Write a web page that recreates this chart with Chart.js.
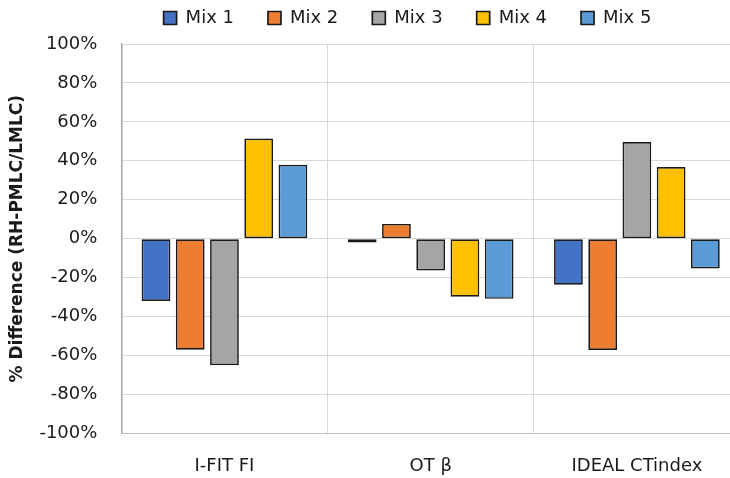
<!DOCTYPE html>
<html>
<head>
<meta charset="utf-8">
<script src="https://cdn.jsdelivr.net/npm/chart.js@4"></script>
<style>
html,body{margin:0;padding:0;background:#fff;overflow:hidden;}
#wrap{width:730px;height:478px;overflow:hidden;position:relative;}
canvas{display:block;}
</style>
</head>
<body>
<div id="wrap"><canvas id="c" width="740" height="478"></canvas></div>
<script>
const categories = ["I-FIT FI", "OT \u03B2", "IDEAL CTindex"];
const seriesNames = ["Mix 1", "Mix 2", "Mix 3", "Mix 4", "Mix 5"];
const mix1 = [-32, -2, -23.6];
const mix2 = [-57, 7.6, -57.2];
const mix3 = [-65, -16.3, 49.7];
const mix4 = [51.4, -29.8, 36.8];
const mix5 = [38, -30.9, -15.3];
const seriesColors = ["#4472C4", "#ED7D31", "#A5A5A5", "#FFC000", "#5B9BD5"];
const yTicks = [-100, -80, -60, -40, -20, 0, 20, 40, 60, 80, 100];

const seriesValues = [mix1, mix2, mix3, mix4, mix5];
const FONT = "'DejaVu Sans', sans-serif";

const legendShift = {
  id: 'legendShift',
  afterLayout(chart) {
    const lg = chart.legend;
    if (lg) { lg.left += 34; lg.right += 34; lg.top -= 7; lg.bottom -= 7; }
  }
};

new Chart(document.getElementById('c'), {
  type: 'bar',
  data: {
    labels: categories,
    datasets: seriesNames.map((n, i) => ({
      label: n,
      data: seriesValues[i],
      backgroundColor: seriesColors[i],
      borderColor: '#1a1a1a',
      borderWidth: 1.7,
      borderSkipped: false,
      categoryPercentage: 0.83,
      barPercentage: 0.84
    }))
  },
  options: {
    responsive: false,
    animation: false,
    devicePixelRatio: 1,
    layout: { padding: { top: -18, left: 7, right: 0, bottom: -21 } },
    plugins: {
      legend: {
        position: 'top',
        labels: {
          font: { family: FONT, size: 18 },
          color: '#1a1a1a',
          boxWidth: 13,
          boxHeight: 13,
          padding: 34
        }
      },
      tooltip: { enabled: false }
    },
    scales: {
      x: {
        grid: { color: '#d9d9d9', lineWidth: 1, offset: true, drawTicks: false },
        border: { color: '#bfbfbf' },
        ticks: { font: { family: FONT, size: 18 }, color: '#1a1a1a', padding: 22 }
      },
      y: {
        min: -100, max: 100,
        afterBuildTicks(axis) { axis.ticks = yTicks.map(v => ({ value: v })); },
        grid: { color: '#d9d9d9', lineWidth: 1, drawTicks: false },
        border: { color: '#a6a6a6', width: 1.5 },
        ticks: {
          font: { family: FONT, size: 18 }, color: '#1a1a1a', padding: 24,
          callback: v => v + '%'
        },
        title: {
          display: true,
          text: '% Difference (RH-PMLC/LMLC)',
          font: { family: FONT, size: 17, weight: 'bold' },
          color: '#1a1a1a',
          padding: { top: 0, bottom: -12 }
        }
      }
    }
  },
  plugins: [legendShift]
});
</script>
</body>
</html>
